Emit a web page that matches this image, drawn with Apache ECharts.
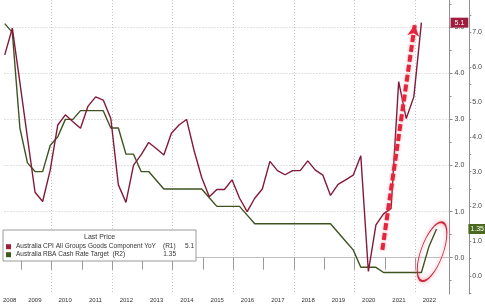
<!DOCTYPE html>
<html>
<head>
<meta charset="utf-8">
<script src="https://cdn.jsdelivr.net/npm/echarts@6/dist/echarts.min.js"></script>
<style>html,body{margin:0;padding:0;background:#fff}#c{width:485px;height:306px}</style>
</head>
<body>
<div id="c"></div>
<script>
// ---- data (quarterly) ----
const cpiDates = ['2008-06','2008-09','2008-12','2009-03','2009-06','2009-09','2009-12','2010-03','2010-06','2010-09','2010-12','2011-03','2011-06','2011-09','2011-12','2012-03','2012-06','2012-09','2012-12','2013-03','2013-06','2013-09','2013-12','2014-03','2014-06','2014-09','2014-12','2015-03','2015-06','2015-09','2015-12','2016-03','2016-06','2016-09','2016-12','2017-03','2017-06','2017-09','2017-12','2018-03','2018-06','2018-09','2018-12','2019-03','2019-06','2019-09','2019-12','2020-03','2020-06','2020-09','2020-12','2021-03','2021-06','2021-09','2021-12','2022-03'];
const cpiGoodsYoY = [4.40,4.98,3.80,2.60,1.42,1.22,1.90,2.88,3.10,2.95,2.81,3.29,3.49,3.42,3.02,1.58,1.20,2.01,2.23,2.50,2.37,2.23,2.70,2.88,3.00,2.32,1.74,1.32,1.48,1.48,1.69,1.29,1.00,1.29,1.49,2.09,1.89,1.80,1.89,1.89,2.10,1.90,1.79,1.35,1.59,1.69,1.79,2.21,-0.30,0.71,0.95,1.07,3.82,3.02,3.49,5.10];
const rbaDates = ['2008-06','2008-09','2008-12','2009-03','2009-06','2009-09','2009-12','2010-03','2010-06','2010-09','2010-12','2011-03','2011-06','2011-09','2011-12','2012-03','2012-06','2012-09','2012-12','2013-03','2013-06','2013-09','2013-12','2014-03','2014-06','2014-09','2014-12','2015-03','2015-06','2015-09','2015-12','2016-03','2016-06','2016-09','2016-12','2017-03','2017-06','2017-09','2017-12','2018-03','2018-06','2018-09','2018-12','2019-03','2019-06','2019-09','2019-12','2020-03','2020-06','2020-09','2020-12','2021-03','2021-06','2021-09','2021-12','2022-03','2022-06','2022-09'];
const rbaCashRate = [7.25,7.00,4.25,3.25,3.00,3.00,3.75,4.00,4.50,4.50,4.75,4.75,4.75,4.75,4.25,4.25,3.50,3.50,3.00,3.00,2.75,2.50,2.50,2.50,2.50,2.50,2.50,2.25,2.00,2.00,2.00,2.00,1.75,1.50,1.50,1.50,1.50,1.50,1.50,1.50,1.50,1.50,1.50,1.50,1.25,1.00,0.75,0.25,0.25,0.25,0.10,0.10,0.10,0.10,0.10,0.10,0.85,1.35];
const lastCPI = '5.1';
const lastRBA = '1.35';
const cpiName = 'Australia CPI All Groups Goods Component YoY';
const rbaName = 'Australia RBA Cash Rate Target';
const yearTicks = [2009,2010,2011,2012,2013,2014,2015,2016,2017,2018,2019,2020,2021,2022];
const yearLabelPos = [2008.62,2009.45,2010.45,2011.45,2012.47,2013.47,2014.47,2015.47,2016.47,2017.47,2018.47,2019.47,2020.47,2021.47,2022.47];
const yearGrid = [2010,2012,2014,2016,2018,2020,2022];
const r1Ticks = [0,1,2,3,4,5];
const r1Minor = [-0.5,0.5,1.5,2.5,3.5,4.5,5.5];
const r2Ticks = [0,1,2,3,4,5,6,7];
const r2Minor = [-0.5,0.5,1.5,2.5,3.5,4.5,5.5,6.5,7.5];
// annotation anchors (data space)
const arrowFrom = [2020.92, 0.17];
const arrowTo = [2021.99, 5.05];
const ellipseCenter = [2022.56, 0.70];

function toYear(s){const p=s.split('-');return +p[0]+(+p[1]-0.5)/12;}
const cpiData = cpiDates.map((d,i)=>[toYear(d),cpiGoodsYoY[i]]);
const rbaData = rbaDates.map((d,i)=>[toYear(d),rbaCashRate[i]]);

const FONT = 'Liberation Sans, Arial, sans-serif';
const RED = '#84193a', GREEN = '#3e5320';
const XMIN = 2008.449, XMAX = 2023.138;
const R1MIN = -0.788, R1MAX = 5.592, R2MIN = -0.517, R2MAX = 7.929;
const R2OFF = 19.7;
const LF = 6.5;

const chart = echarts.init(document.getElementById('c'), null, {renderer:'canvas'});
chart.setOption({
  animation:false,
  backgroundColor:'#fff',
  textStyle:{fontFamily:FONT},
  grid:{left:0,right:33.3,top:0,bottom:12,containLabel:false},
  title:{text:'Last Price',left:84,top:234,padding:0,z:20,
    textStyle:{fontSize:7,fontWeight:'normal',color:'#333',fontFamily:FONT}},
  legend:{
    orient:'vertical',left:3,top:230,padding:[12.7,2,2.3,3],itemGap:0,
    itemWidth:5,itemHeight:5,icon:'rect',selectedMode:false,
    backgroundColor:'#fff',borderColor:'#9a9a9a',borderWidth:1,
    data:[cpiName,rbaName],
    formatter:function(n){
      if(n===cpiName) return '{n|'+n+'}{r|(R1)}{v|'+lastCPI+'}';
      return '{n|'+n+'  (R2)}{v|'+lastRBA+'}';
    },
    textStyle:{fontSize:LF,color:'#333',lineHeight:8,fontFamily:FONT,
      rich:{n:{width:147,fontSize:LF,color:'#333',fontFamily:FONT},
            r:{width:18,fontSize:LF,color:'#333',fontFamily:FONT},
            v:{width:13,align:'right',fontSize:LF,color:'#333',fontFamily:FONT}}}
  },
  xAxis:[{
    type:'value',min:XMIN,max:XMAX,position:'bottom',
    axisLine:{show:true,lineStyle:{color:'#c0c0c0',width:1}},
    axisTick:{show:true,customValues:yearTicks,length:12,lineStyle:{color:'#9a9a9a'}},
    axisLabel:{show:true,customValues:yearLabelPos,margin:3,fontSize:6,color:'#333',fontFamily:FONT,
      formatter:v=>String(Math.floor(v))},
    splitLine:{show:false}
  },{
    type:'value',min:XMIN,max:XMAX,position:'bottom',
    axisLine:{show:false},
    axisTick:{show:false,customValues:yearGrid},
    axisLabel:{show:false},
    splitLine:{show:true,lineStyle:{color:'#c4c4c4',type:[1,2],width:1}}
  }],
  yAxis:[{
    type:'value',position:'right',min:R1MIN,max:R1MAX,
    axisLine:{show:true,lineStyle:{color:'#8f8f8f'}},
    axisTick:{show:true,customValues:r1Ticks,length:3,lineStyle:{color:'#8f8f8f'}},
    axisLabel:{customValues:r1Ticks,margin:5,fontSize:7,color:'#444',fontFamily:FONT,formatter:v=>v.toFixed(1)},
    splitLine:{show:true,lineStyle:{color:'#c4c4c4',type:[1,2],width:1}},
    axisPointer:{show:true,status:'show',value:5.1,snap:false,triggerTooltip:false,type:'line',
      lineStyle:{opacity:0},
      label:{show:true,formatter:()=>lastCPI,backgroundColor:'#a11d40',color:'#fff',fontSize:7,
        padding:[2,4,1,4],margin:1,borderRadius:0,fontFamily:FONT}}
  },{
    type:'value',position:'right',offset:R2OFF,min:R2MIN,max:R2MAX,
    axisLine:{show:true,lineStyle:{color:'#8f8f8f'}},
    axisTick:{show:true,customValues:r2Ticks,length:2,lineStyle:{color:'#8f8f8f'}},
    axisLabel:{customValues:r2Ticks,margin:3,fontSize:7,color:'#444',fontFamily:FONT,formatter:v=>v.toFixed(1)},
    splitLine:{show:false},
    axisPointer:{show:true,status:'show',value:1.35,snap:false,triggerTooltip:false,type:'line',
      lineStyle:{opacity:0},
      label:{show:true,formatter:()=>lastRBA,backgroundColor:'#4b6a1f',color:'#fff',fontSize:7,
        padding:[2,1,1,2],margin:1,borderRadius:0,fontFamily:FONT}}
  },{
    type:'value',position:'right',min:R1MIN,max:R1MAX,
    axisLine:{show:false},
    axisTick:{show:true,customValues:r1Minor,length:2,lineStyle:{color:'#8f8f8f'}},
    axisLabel:{show:false},splitLine:{show:false}
  },{
    type:'value',position:'right',offset:R2OFF,min:R2MIN,max:R2MAX,
    axisLine:{show:false},
    axisTick:{show:true,customValues:r2Minor,length:2,lineStyle:{color:'#8f8f8f'}},
    axisLabel:{show:false},splitLine:{show:false}
  }],
  series:[{
    name:cpiName,type:'line',xAxisIndex:0,yAxisIndex:0,data:cpiData,
    showSymbol:false,symbol:'none',lineStyle:{color:RED,width:1.4},itemStyle:{color:'#a11d40'},z:3,
    markLine:{silent:true,symbol:['none','arrow'],symbolSize:[9,11],
      lineStyle:{color:'#e3263d',type:[7,3],width:4,shadowBlur:3,shadowColor:'rgba(255,120,130,0.7)'},
      label:{show:false},
      data:[[{coord:arrowFrom},{coord:arrowTo}]]}
  },{
    name:rbaName,type:'line',xAxisIndex:0,yAxisIndex:1,data:rbaData,
    showSymbol:false,symbol:'none',lineStyle:{color:GREEN,width:1.4},itemStyle:{color:'#3e5a1c'},z:2,
    markPoint:{silent:true,symbol:'path://M0,-1 A1,1 0 1,1 0,1 A1,1 0 1,1 0,-1 Z',
      symbolSize:[22,62],symbolRotate:-20,
      itemStyle:{color:'rgba(0,0,0,0)',borderColor:'#c8283e',borderWidth:1.3,shadowBlur:4,shadowColor:'rgba(235,90,110,0.8)'},
      label:{show:false},
      data:[{coord:ellipseCenter}]}
  }]
});
</script>
</body>
</html>
